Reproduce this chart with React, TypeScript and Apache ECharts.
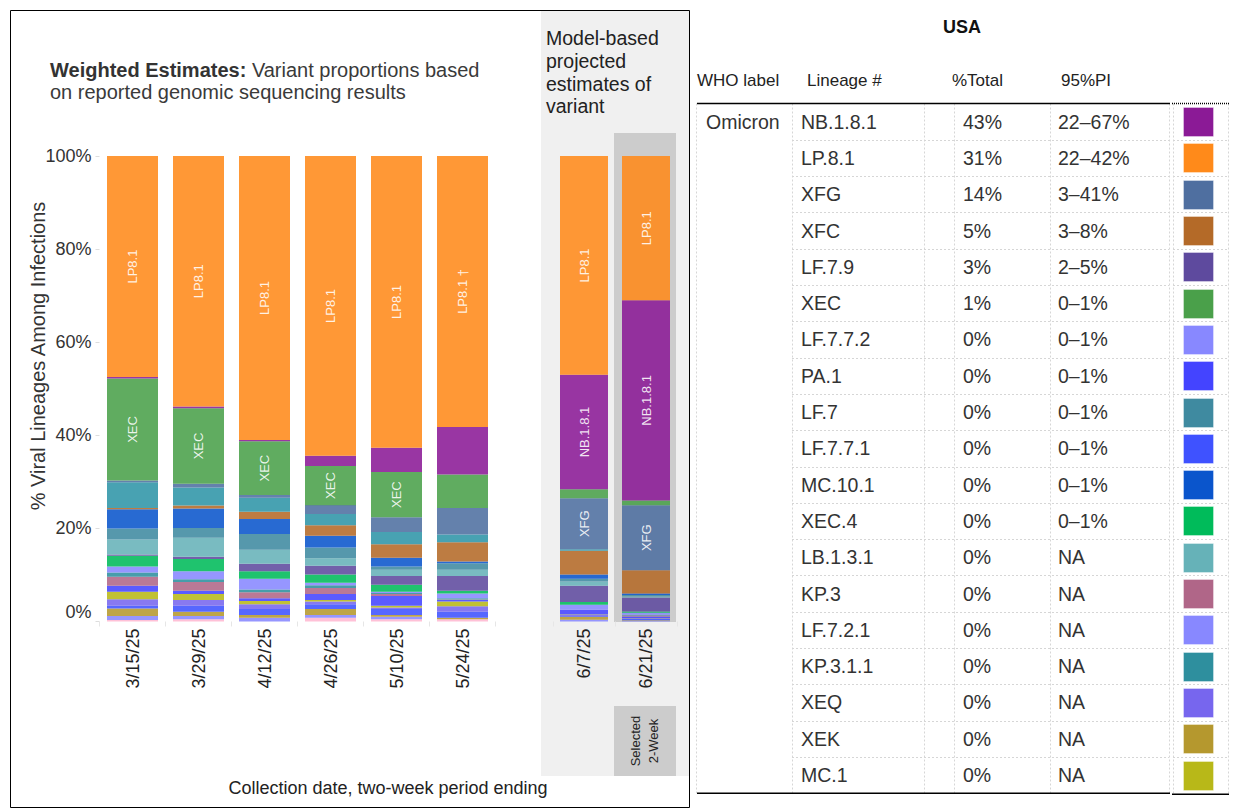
import React, { useEffect, useRef } from "react";
import * as echarts from "echarts";

const FONT = '"Liberation Sans", Arial, Helvetica, sans-serif';

// Two-week periods; the first six are weighted estimates, the last two are projections
const periods = ["3/15/25", "3/29/25", "4/12/25", "4/26/25", "5/10/25", "5/24/25", "6/7/25", "6/21/25"];
const observedCount = 6;

// Lineage shares (%) per period, stacked from the bottom of each bar upwards
const shareOther = [0.3, 0.5, 0, 0.8, 0.5, 0.5, 0, 0];
const shareLF721 = [0.9, 0.7, 0.8, 0.6, 0.5, 0, 0.4, 0.15];
const shareXEK = [1.6, 0.9, 0.6, 1.3, 0.4, 0.3, 0.6, 0.1];
const shareLF771 = [0.6, 1.3, 1.3, 1.0, 1.3, 1.3, 0.2, 0.3];
const shareXEQ = [1.4, 1.2, 1.0, 0.6, 0.3, 1.2, 0.2, 0.1];
const shareMC1 = [1.6, 1.3, 0.7, 0.3, 0.4, 1.0, 0.1, 0.05];
const sharePA1 = [1.3, 0.7, 0.6, 1.3, 2.1, 0.3, 1.0, 0.4];
const shareKP3 = [1.9, 1.9, 1.3, 1.3, 0.4, 0.1, 0, 0.2];
const shareKP311 = [0.9, 0.6, 0.6, 0.6, 0.2, 0.3, 0, 0.15];
const shareLF772 = [1.3, 1.7, 2.3, 0.5, 0.3, 1.0, 1.1, 0.45];
const shareXEC4 = [2.3, 2.6, 1.6, 1.8, 1.5, 0.6, 0.6, 0.25];
const shareLF79 = [0.3, 0.5, 1.6, 1.9, 1.9, 3.2, 3.5, 3];
const shareLB131 = [3.2, 4.1, 3.0, 1.6, 1.3, 1.3, 0.9, 0.2];
const shareLF7 = [2.4, 2.1, 3.4, 2.3, 0.7, 1.4, 0.6, 0.35];
const shareMC101 = [4.1, 4.2, 3.2, 2.5, 1.9, 0.4, 0.9, 0.3];
const shareXFC = [0.3, 0.6, 1.6, 2.3, 2.9, 4.1, 5.1, 5];
const shareLP811 = [5.5, 3.9, 3.0, 2.4, 2.6, 1.7, 0.3, 0];
const shareXFG = [0.4, 0.8, 0.6, 1.9, 3.2, 5.7, 11.0, 14];
const shareXEC = [21.9, 16.2, 11.5, 8.4, 9.7, 7.2, 1.9, 1];
const shareNB181 = [0.3, 0.4, 0.3, 2.2, 5.2, 10.2, 24.6, 43];
const shareLP81 = [47.5, 53.8, 61.0, 64.4, 62.7, 58.2, 47.0, 31];

const lineages = [
  "Other", "LF.7.2.1", "XEK", "LF.7.7.1", "XEQ", "MC.1", "PA.1", "KP.3", "KP.3.1.1", "LF.7.7.2",
  "XEC.4", "LF.7.9", "LB.1.3.1", "LF.7", "MC.10.1", "XFC", "LP.8.1.1", "XFG", "XEC", "NB.1.8.1", "LP.8.1",
];
const lineageShares = [
  shareOther, shareLF721, shareXEK, shareLF771, shareXEQ, shareMC1, sharePA1, shareKP3, shareKP311, shareLF772,
  shareXEC4, shareLF79, shareLB131, shareLF7, shareMC101, shareXFC, shareLP811, shareXFG, shareXEC, shareNB181, shareLP81,
];
const lineageColors = [
  "#ffb8d2", "#8888ff", "#b5982e", "#3f52ff", "#7766ee", "#b8b818", "#4444ff", "#b06688", "#2e8f9e", "#8888ff",
  "#00bb5a", "#5e4a9e", "#66b2b8", "#3f8aa0", "#0a55cc", "#b46a28", "#2f95a7", "#4f6fa0", "#4aa04a", "#8b1a96", "#ff8a1a",
];

// Text written inside bar segments
const labelsLP81 = ["LP8.1", "LP8.1", "LP8.1", "LP8.1", "LP8.1", "LP8.1 \u2020", "LP8.1", "LP8.1"];
const labelsXEC = ["XEC", "XEC", "XEC", "XEC", "XEC", "", "", ""];
const labelsXFG = ["", "", "", "", "", "", "XFG", "XFG"];
const labelsNB181 = ["", "", "", "", "", "", "NB.1.8.1", "NB.1.8.1"];
const segmentLabels: Record<string, string[]> = {
  "LP.8.1": labelsLP81,
  XEC: labelsXEC,
  XFG: labelsXFG,
  "NB.1.8.1": labelsNB181,
};

// Table for the selected two-week period
const tableLineages = [
  "NB.1.8.1", "LP.8.1", "XFG", "XFC", "LF.7.9", "XEC", "LF.7.7.2", "PA.1", "LF.7", "LF.7.7.1",
  "MC.10.1", "XEC.4", "LB.1.3.1", "KP.3", "LF.7.2.1", "KP.3.1.1", "XEQ", "XEK", "MC.1",
];
const tableIntervals = [
  "22\u201367%", "22\u201342%", "3\u201341%", "3\u20138%", "2\u20135%", "0\u20131%", "0\u20131%", "0\u20131%", "0\u20131%", "0\u20131%",
  "0\u20131%", "0\u20131%", "NA", "NA", "NA", "NA", "NA", "NA", "NA",
];
const selectedPeriod = 7;

const yTicks = [0, 20, 40, 60, 80, 100];

function buildOption() {
  const series: any[] = [];
  lineages.forEach((name, i) => {
    const labels = segmentLabels[name];
    const toItem = (v: number, j: number) => {
      const text = labels ? labels[j] : "";
      return text ? { value: v, label: { show: true, formatter: text } } : v;
    };
    const common = {
      type: "bar",
      name,
      itemStyle: { color: lineageColors[i], opacity: 0.88 },
      label: { show: false, position: "inside", rotate: 90, color: "#fff", fontSize: 13, fontFamily: FONT },
      emphasis: { disabled: true },
    };
    series.push({
      ...common,
      stack: "observed",
      xAxisIndex: 0,
      yAxisIndex: 0,
      barWidth: 51,
      data: lineageShares[i].slice(0, observedCount).map((v, j) => toItem(v, j)),
    });
    series.push({
      ...common,
      stack: "projected",
      xAxisIndex: 1,
      yAxisIndex: 1,
      barWidth: 48,
      data: lineageShares[i].slice(observedCount).map((v, j) => toItem(v, j + observedCount)),
    });
  });

  const xAxisCommon = {
    type: "category",
    axisLine: { show: false },
    axisTick: { show: true, length: 5, lineStyle: { color: "#e6e6e6" } },
    axisLabel: { rotate: 90, margin: 7, fontSize: 18, color: "#222", fontFamily: FONT },
  };

  const g: any[] = [];
  // backgrounds
  g.push({ type: "rect", z: 0, shape: { x: 541, y: 10, width: 149, height: 766 }, style: { fill: "#f0f0f0" } });
  g.push({ type: "rect", z: 0, shape: { x: 614, y: 133, width: 62, height: 489 }, style: { fill: "#cccccc" } });
  g.push({ type: "rect", z: 0, shape: { x: 614, y: 706, width: 62, height: 70 }, style: { fill: "#cccccc" } });
  g.push({
    type: "rect", z: 5, shape: { x: 10.5, y: 10.5, width: 679, height: 797 },
    style: { fill: "none", stroke: "#000", lineWidth: 1 },
  });

  const text = (x: number, y: number, t: string, extra: any = {}, styleExtra: any = {}) => ({
    type: "text", z: 6, x, y, ...extra,
    style: { text: t, fill: "#333", fontSize: 18, fontFamily: FONT, verticalAlign: "middle", align: "left", ...styleExtra },
  });

  g.push({
    type: "text", z: 6, x: 50, y: 59,
    style: {
      text: "{b|Weighted Estimates:} Variant proportions based\non reported genomic sequencing results",
      fill: "#3a3a3a", fontSize: 20, lineHeight: 22, fontFamily: FONT, verticalAlign: "top",
      rich: { b: { fontWeight: "bold", fill: "#333", fontSize: 20, lineHeight: 22, fontFamily: FONT } },
    },
  });
  g.push({
    type: "text", z: 6, x: 546, y: 27,
    style: {
      text: "Model-based\nprojected\nestimates of\nvariant",
      fill: "#222", fontSize: 19.5, lineHeight: 22.7, fontFamily: FONT, verticalAlign: "top",
    },
  });
  g.push(text(38, 356, "% Viral Lineages Among Infections", { rotation: Math.PI / 2 }, { align: "center", fontSize: 20 }));
  g.push(text(644, 741, "Selected\n2-Week", { rotation: Math.PI / 2 }, { align: "center", fontSize: 13, lineHeight: 18, fill: "#222" }));
  g.push(text(388, 788, "Collection date, two-week period ending", {}, { align: "center", fill: "#222" }));

  // table
  const tableTop = 103.5;
  const rowH = 36.3;
  const tableBottom = tableTop + rowH * tableLineages.length;
  g.push(text(962, 27, "USA", {}, { align: "center", fontWeight: "bold", fill: "#111" }));
  g.push(text(697, 80, "WHO label", {}, { fontSize: 17, fill: "#222" }));
  g.push(text(807, 80, "Lineage #", {}, { fontSize: 17, fill: "#222" }));
  g.push(text(952, 80, "%Total", {}, { fontSize: 17, fill: "#222" }));
  g.push(text(1061, 80, "95%PI", {}, { fontSize: 17, fill: "#222" }));

  const dotted = { stroke: "#d6d6d6", lineWidth: 1, lineDash: [2, 2] };
  for (let k = 1; k < tableLineages.length; k++) {
    const y = Math.round(tableTop + k * rowH) + 0.5;
    g.push({ type: "line", z: 4, shape: { x1: 792, y1: y, x2: 1169, y2: y }, style: dotted });
    g.push({ type: "line", z: 4, shape: { x1: 1173, y1: y, x2: 1228, y2: y }, style: dotted });
  }
  [696.5, 792.5, 924.5, 954.5, 1050.5, 1169.5, 1173.5, 1228.5].forEach((x) => {
    g.push({ type: "line", z: 4, shape: { x1: x, y1: tableTop, x2: x, y2: tableBottom }, style: dotted });
  });
  g.push({ type: "line", z: 5, shape: { x1: 697, y1: tableTop, x2: 1170, y2: tableTop }, style: { stroke: "#000", lineWidth: 1.5 } });
  g.push({ type: "line", z: 5, shape: { x1: 1172, y1: tableTop, x2: 1229, y2: tableTop }, style: { stroke: "#000", lineWidth: 1.5, lineDash: [1, 1] } });
  g.push({ type: "line", z: 5, shape: { x1: 697, y1: tableBottom, x2: 1170, y2: tableBottom }, style: { stroke: "#000", lineWidth: 1.5 } });
  g.push({ type: "line", z: 5, shape: { x1: 1172, y1: tableBottom + 1, x2: 1229, y2: tableBottom + 1 }, style: { stroke: "#000", lineWidth: 1.5 } });

  g.push(text(706, tableTop + rowH / 2, "Omicron", {}, { fontSize: 19.5 }));
  tableLineages.forEach((name, i) => {
    const cy = tableTop + rowH * (i + 0.5);
    const idx = lineages.indexOf(name);
    const pct = Math.round(lineageShares[idx][selectedPeriod]) + "%";
    g.push(text(801, cy, name, {}, { fontSize: 19.5 }));
    g.push(text(963, cy, pct, {}, { fontSize: 19.5 }));
    g.push(text(1058, cy, tableIntervals[i], {}, { fontSize: 19.5 }));
    g.push({
      type: "rect", z: 5,
      shape: { x: 1183.5, y: Math.round(cy - 14.5) + 0.5, width: 30, height: 29 },
      style: { fill: lineageColors[idx], stroke: "rgba(255,255,255,0.35)", lineWidth: 1 },
    });
  });

  return {
    animation: false,
    textStyle: { fontFamily: FONT },
    grid: [
      { left: 99.5, top: 156, width: 396, height: 465.5 },
      { left: 553, top: 156, width: 124, height: 465.5 },
    ],
    xAxis: [
      { ...xAxisCommon, gridIndex: 0, data: periods.slice(0, observedCount) },
      { ...xAxisCommon, gridIndex: 1, data: periods.slice(observedCount) },
    ],
    yAxis: [
      {
        type: "value", gridIndex: 0, min: 0, max: 100, interval: 20,
        splitLine: { show: false },
        axisLine: { show: false },
        axisTick: { show: true, length: 4, lineStyle: { color: "#dddddd" } },
        axisLabel: {
          margin: 8, fontSize: 18, color: "#333", fontFamily: FONT,
          formatter: (v: number) => (v === yTicks[0] ? "{z|" + v + "%}" : v + "%"),
          rich: { z: { fontSize: 18, color: "#333", fontFamily: FONT, padding: [0, 0, 20, 0] } },
        },
      },
      { type: "value", gridIndex: 1, min: 0, max: 100, show: false },
    ],
    series,
    graphic: g,
  };
}

export default function App() {
  const ref = useRef<HTMLDivElement>(null);
  useEffect(() => {
    if (!ref.current) return;
    const chart = echarts.init(ref.current, undefined, { renderer: "svg" });
    chart.setOption(buildOption() as any);
    return () => chart.dispose();
  }, []);
  return (
    <div
      ref={ref}
      style={{ position: "absolute", left: 0, top: 0, width: 1239, height: 811, background: "#fff" }}
    />
  );
}
